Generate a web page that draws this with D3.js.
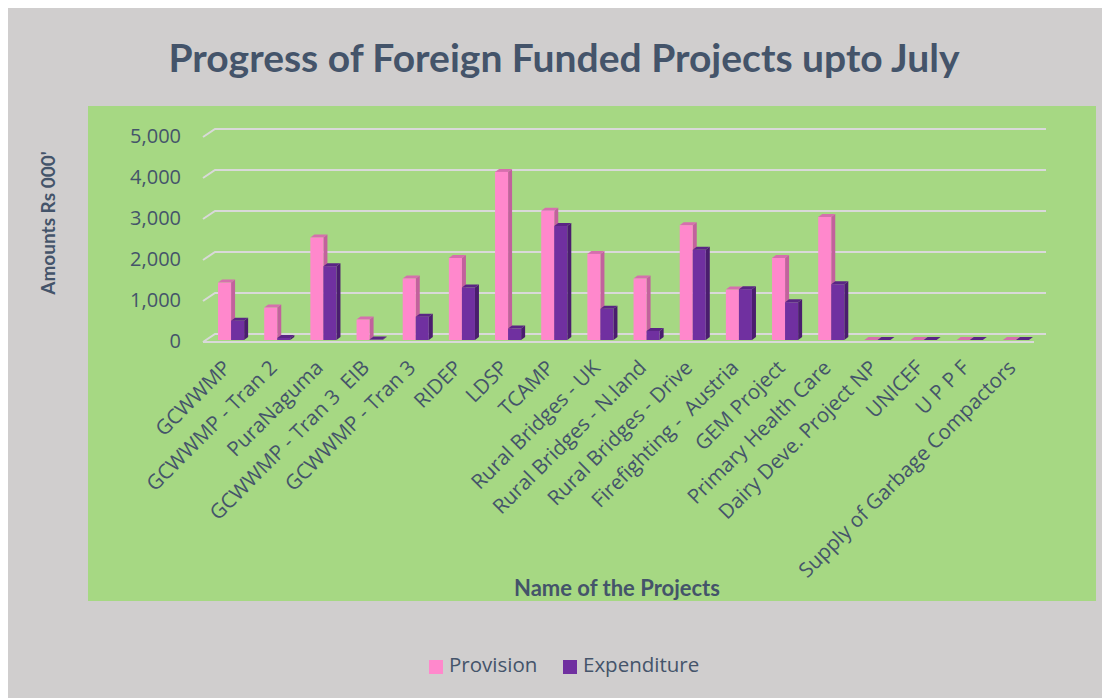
<!DOCTYPE html>
<html>
<head>
<meta charset="utf-8">
<script src="https://cdn.jsdelivr.net/npm/d3@7/dist/d3.min.js"></script>
<style>
  html, body { margin: 0; padding: 0; background: #ffffff; }
  svg { display: block; }
  text { white-space: pre; }
</style>
</head>
<body>
<svg id="chart" width="1102" height="698"></svg>
<script>
// ---- data ----
const categories = [
  "GCWWMP", "GCWWMP - Tran 2", "PuraNaguma", "GCWWMP - Tran 3  EIB", "GCWWMP - Tran 3",
  "RIDEP", "LDSP", "TCAMP", "Rural Bridges - UK", "Rural Bridges - N.land",
  "Rural Bridges - Drive", "Firefighting -  Austria", "GEM Project", "Primary Health Care",
  "Dairy Deve. Project NP", "UNICEF", "U P P F", "Supply of Garbage Compactors"
];
const provision   = [1400, 790, 2500, 500, 1500, 2000, 4100, 3150, 2100, 1500, 2800, 1230, 2000, 3000, 0, 0, 0, 0];
const expenditure = [470, 50, 1800, 10, 570, 1280, 280, 2780, 760, 220, 2200, 1240, 920, 1360, 0, 0, 0, 0];
const seriesNames = ["Provision", "Expenditure"];
const yTicks = [0, 1000, 2000, 3000, 4000, 5000];
const titleText = "Progress of Foreign Funded Projects upto July";
const yTitle = "Amounts Rs 000'";
const xTitle = "Name of the Projects";

// ---- styles ----
const textColor = "#44546A";
const colors = {
  Provision:   { front: "#FF88CC", side: "#C2619D", top: "#D66FAE" },
  Expenditure: { front: "#7030A0", side: "#4A1D6E", top: "#5A2585" }
};

const svg = d3.select("#chart");

// backgrounds
svg.append("rect").attr("x", 0).attr("y", 0).attr("width", 1102).attr("height", 698).attr("fill", "#ffffff");
svg.append("rect").attr("x", 8).attr("y", 8).attr("width", 1094).attr("height", 690).attr("fill", "#D0CECE");
svg.append("rect").attr("x", 88).attr("y", 106).attr("width", 1008).attr("height", 495).attr("fill", "#A6D883");

// scales
const depthX = 12, depthY = -8;
const x = d3.scaleBand().domain(categories).range([203, 1034]);
const yBack = d3.scaleLinear().domain([0, 5000]).range([334, 129]);
const yBar = d3.scaleLinear().domain([0, 5000]).range([340, 135]);
const inner = d3.scaleBand().domain(seriesNames).range([0, x.bandwidth()]).paddingInner(0).paddingOuter(0.77);

// gridlines (3D wall + floor)
const grid = svg.append("g");
yTicks.forEach(t => {
  const yb = yBack(t);
  grid.append("polyline")
    .attr("points", `${203},${yb - depthY} ${203 + depthX},${yb} ${1046},${yb}`)
    .attr("fill", "none").attr("stroke", "#D9D9D9").attr("stroke-width", 2);
});
grid.append("line")
  .attr("x1", 203).attr("y1", yBack(0) - depthY).attr("x2", 1034).attr("y2", yBack(0) - depthY)
  .attr("stroke", "#D9D9D9").attr("stroke-width", 2);

// y tick labels
svg.append("g").selectAll("text").data(yTicks).join("text")
  .attr("x", 181).attr("y", d => yBack(d) - depthY + 1)
  .attr("text-anchor", "end").attr("dominant-baseline", "middle")
  .attr("font-family", "Open Sans").attr("font-size", 20).attr("fill", textColor)
  .text(d => d3.format(",")(d));

// bars
const bdx = 4, bdy = -3;
const barData = [];
categories.forEach((c, i) => {
  barData.push({ cat: c, s: "Provision", v: provision[i] });
  barData.push({ cat: c, s: "Expenditure", v: expenditure[i] });
});
const bars = svg.append("g");
barData.forEach(d => {
  const x0 = x(d.cat) + 5 + inner(d.s);
  const w = inner.bandwidth();
  const base = yBar(0);
  const top = yBar(d.v);
  const col = colors[d.s];
  const g = bars.append("g");
  g.append("polygon")
    .attr("points", `${x0 + w},${top} ${x0 + w + bdx},${top + bdy} ${x0 + w + bdx},${base + bdy} ${x0 + w},${base}`)
    .attr("fill", col.side);
  g.append("polygon")
    .attr("points", `${x0},${top} ${x0 + bdx},${top + bdy} ${x0 + w + bdx},${top + bdy} ${x0 + w},${top}`)
    .attr("fill", col.top);
  if (base - top > 0) {
    g.append("rect").attr("x", x0).attr("y", top).attr("width", w).attr("height", base - top).attr("fill", col.front);
  }
});

// category labels
svg.append("g").selectAll("text").data(categories).join("text")
  .attr("transform", d => `translate(${x(d) + x.bandwidth() / 2 + 6},${369}) rotate(-45)`)
  .attr("text-anchor", "end")
  .attr("font-family", "Open Sans").attr("font-size", 20.5).attr("fill", textColor)
  .text(d => d);

// title
svg.append("text").attr("x", 564).attr("y", 72).attr("text-anchor", "middle")
  .attr("font-family", "Lato").attr("font-weight", "bold").attr("font-size", 39).attr("fill", textColor)
  .text(titleText);

// axis titles
svg.append("text").attr("transform", "translate(55,223) rotate(-90)").attr("text-anchor", "middle")
  .attr("font-family", "Lato").attr("font-weight", "bold").attr("font-size", 19).attr("fill", textColor)
  .text(yTitle);
svg.append("text").attr("x", 617).attr("y", 596).attr("text-anchor", "middle")
  .attr("font-family", "Lato").attr("font-weight", "bold").attr("font-size", 22).attr("fill", textColor)
  .text(xTitle);

// legend
const legendX = [429, 563];
const legend = svg.append("g");
seriesNames.forEach((s, i) => {
  legend.append("rect").attr("x", legendX[i]).attr("y", 660).attr("width", 14).attr("height", 14).attr("fill", colors[s].front);
  legend.append("text").attr("x", legendX[i] + 20).attr("y", 667).attr("dominant-baseline", "middle")
    .attr("font-family", "Open Sans").attr("font-size", 20.5).attr("fill", textColor).text(s);
});
</script>
</body>
</html>
